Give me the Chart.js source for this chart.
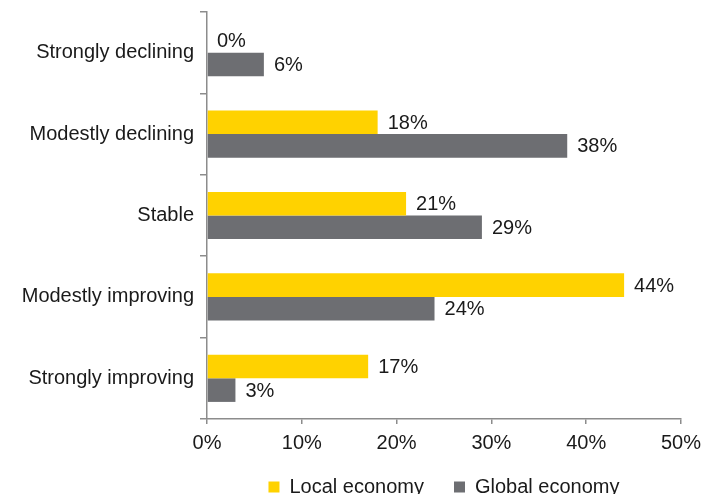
<!DOCTYPE html>
<html>
<head>
<meta charset="utf-8">
<script src="https://cdn.jsdelivr.net/npm/chart.js@4/dist/chart.umd.min.js"></script>
<style>
  html, body { margin: 0; padding: 0; background: #fff; }
  #wrap { width: 708px; height: 494px; }
</style>
</head>
<body>
<div id="wrap"><canvas id="outlookChart" width="708" height="494"></canvas></div>
<script>
const categories = ["Strongly declining", "Modestly declining", "Stable", "Modestly improving", "Strongly improving"]
const localEconomy = [0, 18, 21, 44, 17]
const globalEconomy = [6, 38, 29, 24, 3]
const xTicks = [0, 10, 20, 30, 40, 50]

const YELLOW = "#FFD200"
const GREY = "#6D6E72"
const TEXT = "#1a1a1a"
const AXIS = "#8c8c8c"

Chart.defaults.font.family = "'Liberation Sans', Arial, sans-serif"
Chart.defaults.font.size = 20
Chart.defaults.color = TEXT

// value labels just past the end of each bar
const barLabels = {
    id: "barLabels",
    afterDatasetsDraw(chart) {
        const ctx = chart.ctx
        ctx.save()
        ctx.font = "20px 'Liberation Sans', Arial, sans-serif"
        ctx.fillStyle = TEXT
        ctx.textAlign = "left"
        ctx.textBaseline = "middle"
        chart.data.datasets.forEach((ds, i) => {
            chart.getDatasetMeta(i).data.forEach((bar, j) => {
                ctx.fillText(ds.data[j] + "%", bar.x + 10, bar.y + 1)
            })
        })
        ctx.restore()
    },
}

// keep the legend centred under the plot area and tucked near the bottom edge
const legendPlacement = {
    id: "legendPlacement",
    afterLayout(chart) {
        const lg = chart.legend
        const area = chart.chartArea
        const h = lg.height
        lg.left = area.left
        lg.right = area.right
        lg.top = 447
        lg.bottom = lg.top + h
    },
}

const ctx = document.getElementById("outlookChart").getContext("2d")
const outlookChart = new Chart(ctx, {
    type: "bar",
    data: {
        labels: categories,
        datasets: [
            {
                label: "Local economy",
                data: localEconomy,
                backgroundColor: YELLOW,
                borderWidth: 0,
                categoryPercentage: 0.58,
                barPercentage: 1,
            },
            {
                label: "Global economy",
                data: globalEconomy,
                backgroundColor: GREY,
                borderWidth: 0,
                categoryPercentage: 0.58,
                barPercentage: 1,
            },
        ],
    },
    options: {
        indexAxis: "y",
        responsive: false,
        animation: false,
        layout: {
            padding: { left: 0, right: 27, top: 12, bottom: -28 },
        },
        plugins: {
            legend: {
                position: "bottom",
                labels: {
                    boxWidth: 11,
                    boxHeight: 11,
                    padding: 30,
                    color: TEXT,
                    font: { size: 20 },
                },
            },
            tooltip: { enabled: false },
        },
        scales: {
            x: {
                min: 0,
                max: 50,
                afterBuildTicks: (scale) => {
                    scale.ticks = xTicks.map((v) => ({ value: v }))
                },
                ticks: {
                    callback: (value) => value + "%",
                    padding: 7,
                    color: TEXT,
                },
                grid: {
                    drawOnChartArea: false,
                    drawTicks: true,
                    tickLength: 5,
                    color: AXIS,
                    lineWidth: 1.5,
                },
                border: { color: AXIS, width: 1.5 },
            },
            y: {
                afterFit: (scale) => {
                    scale.width = 207
                    scale.paddingTop = 0
                    scale.paddingBottom = 0
                },
                ticks: {
                    padding: 6,
                    color: TEXT,
                },
                grid: {
                    offset: true,
                    drawOnChartArea: false,
                    drawTicks: true,
                    tickLength: 7,
                    color: AXIS,
                    lineWidth: 1.5,
                },
                border: { color: AXIS, width: 1.5 },
            },
        },
    },
    plugins: [barLabels, legendPlacement],
})
</script>
</body>
</html>
